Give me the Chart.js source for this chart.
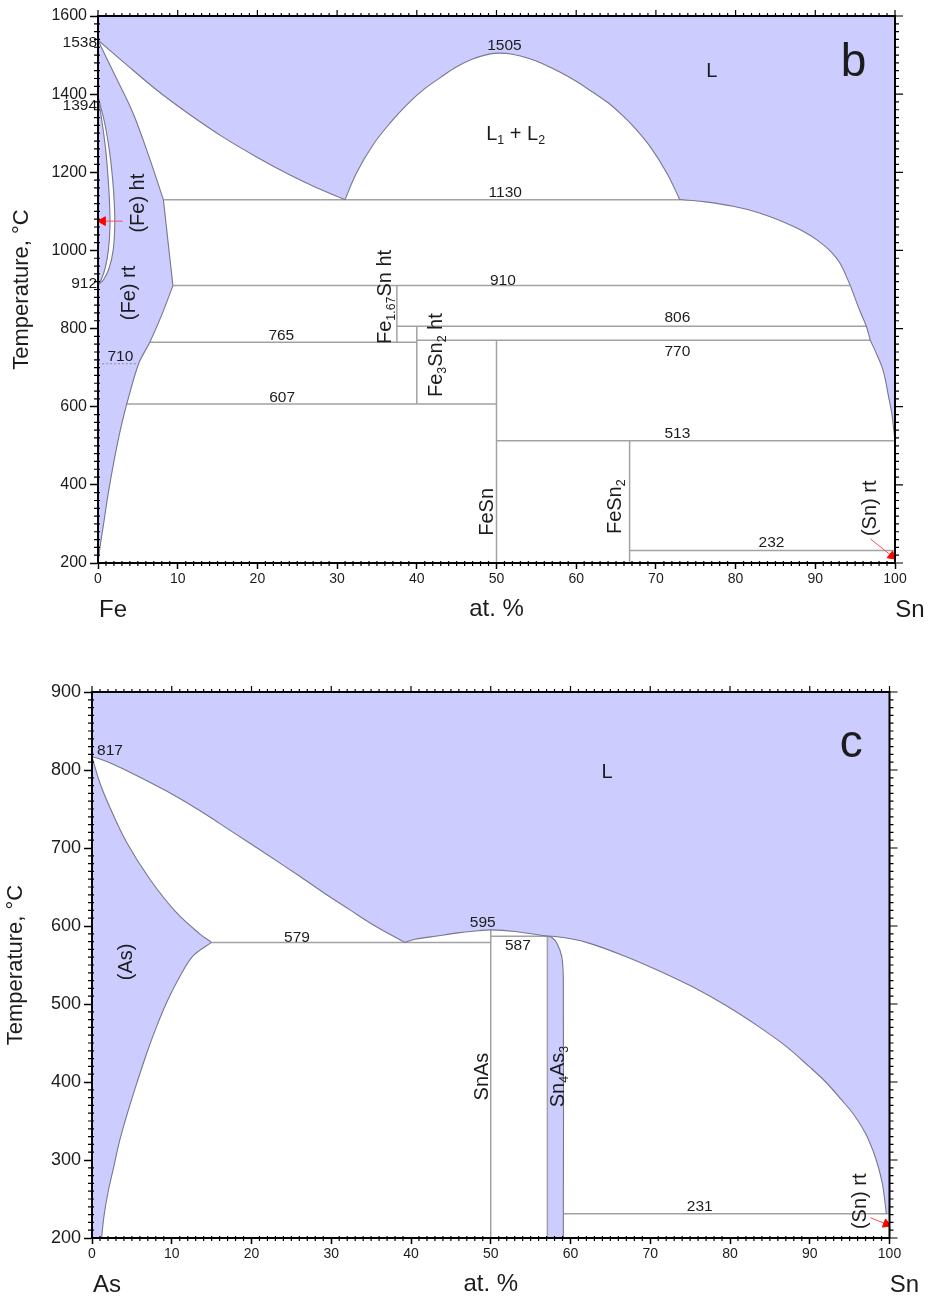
<!DOCTYPE html>
<html>
<head>
<meta charset="utf-8">
<script src="https://cdn.jsdelivr.net/npm/chart.js@4.4.1/dist/chart.umd.min.js"></script>
<style>
  body { margin: 0; background: #fff; width: 928px; height: 1299px; overflow: hidden; }
  .panel { position: absolute; left: 0; width: 928px; }
</style>
</head>
<body>
<div class="panel" style="top:0;height:650px"><canvas id="feSn" width="928" height="650"></canvas></div>
<div class="panel" style="top:650px;height:649px"><canvas id="asSn" width="928" height="649"></canvas></div>
<script>
// ---------- Fe–Sn (panel b) ----------
const compTicks = [0, 10, 20, 30, 40, 50, 60, 70, 80, 90, 100];
const feTempTicks = [200, 400, 600, 800, 1000, 1200, 1400, 1600];

const feLiquidusFe = [[0, 1538], [3.2, 1482], [7.4, 1410], [11.5, 1348], [15.7, 1290], [20, 1238], [24.1, 1193], [27.5, 1160], [31, 1130]];
const feGap = [[31, 1130], [32.4, 1197], [34.5, 1270], [36.6, 1325], [38.7, 1372], [40.8, 1411], [43, 1443], [45, 1470], [47, 1490], [49.2, 1503], [50.3, 1505],
  [52, 1502], [54, 1492], [56, 1476], [58, 1456], [60, 1433], [62, 1406], [64, 1378], [66, 1342], [67.2, 1317], [69.3, 1265], [71.4, 1197], [73, 1130]];
const feLiquidusSnHigh = [[73, 1130], [76, 1125], [79.7, 1113], [83, 1096], [86, 1073], [88.3, 1051], [90.2, 1027], [91.8, 1000], [93.1, 967], [94.4, 910]];
const feLiquidusSnMid = [[94.4, 910], [95.5, 850], [96.4, 806], [96.9, 770]];
const feLiquidusSnLow = [[96.9, 770], [97.8, 730], [98.4, 700], [98.8, 668], [99.2, 625], [99.6, 583], [99.85, 540], [100, 513]];
const feSolvusHigh = [[0, 1538], [2.2, 1445], [4.4, 1351], [6.4, 1240], [8.2, 1130]];
const feSolvusMid = [[8.2, 1130], [8.8, 1020], [9.4, 910]];
const feSolvusLow = [[9.4, 910], [8, 835], [6.5, 765], [5.1, 710], [3.6, 607]];
const feSolvusBottom = [[3.6, 607], [2.8, 540], [2, 460], [1.3, 380], [0.7, 300], [0.25, 240], [0, 200]];
const feGammaOuter = [[0, 1394], [0.8, 1330], [1.4, 1260], [1.8, 1190], [2.05, 1120], [2.1, 1060], [1.9, 1000], [1.4, 955], [0.7, 925], [0, 912]];
const feGammaInner = [[0, 1394], [0.5, 1330], [0.95, 1260], [1.25, 1190], [1.45, 1120], [1.5, 1060], [1.3, 1000], [0.9, 955], [0.4, 925], [0, 912]];
// [temperature, from at.%, to at.%]
const feIsotherms = [[1130, 8.2, 73], [910, 9.4, 94.4], [806, 37.5, 96.4], [770, 40, 96.9], [765, 6.5, 40], [607, 3.6, 50], [513, 50, 100], [232, 66.7, 100]];
// [at.%, from T, to T]
const feCompounds = [[37.5, 765, 910], [40, 607, 806], [50, 200, 770], [66.7, 200, 513]];
const feMagnetic = [[710, 0, 5.1]];
const feArrows = [[[3.1, 1075], [0.6, 1075]], [[96.9, 262], [99.6, 218]]];

// ---------- As–Sn (panel c) ----------
const asTempTicks = [200, 300, 400, 500, 600, 700, 800, 900];

const asLiquidusAs = [[0, 817], [1, 814], [2.5, 808], [5.2, 795], [9.35, 773], [13.5, 748], [17.7, 720], [21.9, 692], [26, 664], [29, 643], [32.3, 621], [35.5, 600], [39.2, 579]];
const asLiquidusMid = [[39.2, 579], [40.5, 583], [42.8, 586.5], [46.1, 591.5], [48.5, 594], [50, 595], [53, 593], [57.1, 587]];
const asLiquidusSn = [[57.1, 587], [58.6, 586], [62, 579], [66.9, 561], [71, 543], [75.3, 522], [79.5, 498], [83.6, 471], [87, 446], [89.9, 420],
  [92, 400], [94, 377], [95.6, 357], [97, 334], [98, 310], [98.6, 291], [99.1, 270], [99.4, 249], [99.6, 231]];
const asSolidus = [[0, 817], [1, 783], [2.25, 752], [4.3, 708], [7.26, 660], [10.6, 617], [13.5, 590], [15, 579]];
const asSolvus = [[15, 579], [12.7, 562], [11, 535], [9.5, 505], [8.1, 471], [6.8, 435], [5.6, 398], [4.5, 362], [3.5, 326], [2.7, 290], [2, 258], [1.5, 228], [1.2, 200]];
const asSn4As3 = [[57.1, 587], [57.7, 585], [58.3, 578], [58.9, 561], [59.1, 531], [59.1, 200]];
const asIsotherms = [[579, 15, 50], [587, 50, 57.1], [231, 59.1, 100]];
const asCompounds = [[50, 200, 595], [57.1, 200, 587]];
const asArrows = [[[97.6, 226], [99.6, 218]]];

const FONT = "'Liberation Sans', Arial, Helvetica, sans-serif";
const LAV = '#ccccff';
const CURVE = '#77778e';
const ISO = '#a2a2a2';
const INK = '#1c1c1c';

function xy(pts) {
  return pts.map(([x, y]) => ({x, y}));
}

// chains keep their shared end points, so every join stays a sharp corner
function joinChains(...chains) {
  return [].concat(...chains);
}

// text with _{sub} parts, centred on (px, py)
function drawRich(ctx, spec, px, py, size, rot) {
  const parts = spec.split(/(_\{[^}]*\})/).filter(Boolean)
    .map(s => s.startsWith('_{') ? {s: s.slice(2, -1), sub: true} : {s, sub: false});
  const big = size + 'px ' + FONT;
  const small = (size * 0.62).toFixed(1) + 'px ' + FONT;
  let w = 0;
  parts.forEach(p => { ctx.font = p.sub ? small : big; p.w = ctx.measureText(p.s).width; w += p.w; });
  ctx.save();
  ctx.translate(px, py);
  ctx.rotate((rot || 0) * Math.PI / 180);
  ctx.fillStyle = INK;
  ctx.textAlign = 'left';
  ctx.textBaseline = 'alphabetic';
  let cx = -w / 2;
  const base = size * 0.36;
  parts.forEach(p => {
    ctx.font = p.sub ? small : big;
    ctx.fillText(p.s, cx, base + (p.sub ? size * 0.2 : 0));
    cx += p.w;
  });
  ctx.restore();
}

const phaseNotes = {
  id: 'phaseNotes',
  afterDatasetsDraw(chart, args, opts) {
    const {ctx, chartArea: a, scales: {x, y}} = chart;
    opts.notes.forEach(n => drawRich(ctx, n.t, x.getPixelForValue(n.x), y.getPixelForValue(n.y), n.size || 15.5, n.rot));
    ctx.save();
    ctx.fillStyle = INK;
    ctx.font = '15.5px ' + FONT;
    ctx.textAlign = 'right';
    ctx.textBaseline = 'middle';
    (opts.edge || []).forEach(e => ctx.fillText(e.t, a.left - 1, y.getPixelForValue(e.v) + e.dy));
    ctx.font = '24px ' + FONT;
    ctx.textAlign = 'center';
    ctx.fillText(opts.ends[0], x.getPixelForValue(x.min) + 15, a.bottom + 47);
    ctx.fillText(opts.ends[1], x.getPixelForValue(x.max) + 15, a.bottom + 47);
    ctx.restore();
  }
};

// frame, minor ticks and mirrored ticks on top/right
const frameTicks = {
  id: 'frameTicks',
  afterDraw(chart, args, opts) {
    const {ctx, chartArea: a, scales: {x, y}} = chart;
    ctx.save();
    ctx.strokeStyle = '#000';
    ctx.lineWidth = 2;
    ctx.strokeRect(a.left, a.top, a.right - a.left, a.bottom - a.top);
    ctx.lineWidth = 1.2;
    ctx.beginPath();
    const nx = Math.round((x.max - x.min) / opts.xMinor);
    for (let i = 0; i <= nx; i++) {
      const p = x.getPixelForValue(x.min + i * opts.xMinor);
      const major = i % opts.xEvery === 0;
      ctx.moveTo(p, a.top); ctx.lineTo(p, a.top - (major ? 6 : 3));
      if (!major) { ctx.moveTo(p, a.bottom - 2); ctx.lineTo(p, a.bottom + 3); }
    }
    const ny = Math.round((y.max - y.min) / opts.yMinor);
    for (let i = 0; i <= ny; i++) {
      const p = y.getPixelForValue(y.min + i * opts.yMinor);
      const major = i % opts.yEvery === 0;
      ctx.moveTo(a.right, p); ctx.lineTo(a.right + (major ? 8 : 4), p);
      if (!major) { ctx.moveTo(a.left + 2, p); ctx.lineTo(a.left - 4, p); }
    }
    ctx.stroke();
    ctx.restore();
  }
};

function buildDatasets(s) {
  const sets = [];
  let order = 100;
  s.areas.forEach(r => sets.push({
    data: xy(r.pts), showLine: true, fill: 'shape', backgroundColor: r.color,
    borderWidth: 0, pointRadius: 0, order: order--
  }));
  const line = (pts, color, width, dash, ord) => sets.push({
    data: xy(pts), showLine: true, fill: false, borderColor: color, borderWidth: width,
    borderDash: dash || [], pointRadius: 0, order: ord
  });
  s.isotherms.forEach(([t, a, b]) => line([[a, t], [b, t]], ISO, 1.5, null, 12));
  s.compounds.forEach(([c, lo, hi]) => line([[c, lo], [c, hi]], ISO, 1.5, null, 12));
  (s.dashed || []).forEach(([t, a, b]) => line([[a, t], [b, t]], '#8a8a9a', 1.2, [2, 2], 12));
  s.curves.forEach(c => line(c, CURVE, 1.1, null, 10));
  s.arrows.forEach(ar => sets.push({
    data: xy(ar), showLine: true, fill: false, borderColor: '#ff4d4d', borderWidth: 1, tension: 0,
    pointRadius: [0, 5], pointStyle: 'triangle', pointBackgroundColor: '#ff0000', pointBorderColor: '#ff0000',
    pointRotation: c => {
      const d = c.dataset.data, xs = c.chart.scales.x, ys = c.chart.scales.y;
      const dx = xs.getPixelForValue(d[1].x) - xs.getPixelForValue(d[0].x);
      const dy = ys.getPixelForValue(d[1].y) - ys.getPixelForValue(d[0].y);
      return Math.atan2(dy, dx) * 180 / Math.PI + 90;
    },
    order: 1
  }));
  return sets;
}

function phaseChart(id, s) {
  return new Chart(document.getElementById(id), {
    type: 'scatter',
    data: {datasets: buildDatasets(s)},
    plugins: [phaseNotes, frameTicks],
    options: {
      responsive: false,
      animation: false,
      events: [],
      layout: {padding: s.padding},
      elements: {line: {tension: 0.35}},
      plugins: {
        legend: {display: false},
        tooltip: {enabled: false},
        phaseNotes: {notes: s.notes, edge: s.edge, ends: s.ends},
        frameTicks: {xMinor: 1, xEvery: 10, yMinor: s.yMinor, yEvery: s.yEvery}
      },
      scales: {
        x: {
          type: 'linear', position: 'bottom', min: 0, max: 100,
          afterBuildTicks: sc => { sc.ticks = compTicks.map(v => ({value: v})); },
          afterFit: sc => { sc.height = s.xHeight; },
          ticks: {color: INK, font: {family: FONT, size: 14}, padding: 2, maxRotation: 0, autoSkip: false, callback: v => String(v)},
          grid: {drawOnChartArea: false, drawTicks: true, tickLength: 6, tickColor: '#000', tickWidth: 1.5},
          border: {display: true, color: '#000', width: 2},
          title: {display: true, text: 'at. %', color: INK, font: {family: FONT, size: 24}, padding: {top: 0, bottom: s.xTitlePad}}
        },
        y: {
          type: 'linear', position: 'left', min: s.yMin, max: s.yMax,
          afterBuildTicks: sc => { sc.ticks = s.yTicks.map(v => ({value: v})); },
          afterFit: sc => { sc.width = s.yWidth; },
          ticks: {color: INK, font: {family: FONT, size: s.yTickSize}, padding: 3, autoSkip: false, callback: v => String(v)},
          grid: {drawOnChartArea: false, drawTicks: true, tickLength: 8, tickColor: '#000', tickWidth: 1.5},
          border: {display: true, color: '#000', width: 2},
          title: {display: true, text: 'Temperature, °C', color: INK, font: {family: FONT, size: 22}, padding: {top: s.yTitlePad, bottom: 0}}
        }
      }
    }
  });
}

phaseChart('feSn', {
  yMin: 200, yMax: 1600, yTicks: feTempTicks, yMinor: 20, yEvery: 10, yTickSize: 16,
  padding: {left: 0, right: 33, top: 16, bottom: 0}, yWidth: 98, xHeight: 87, xTitlePad: 26, yTitlePad: 9,
  areas: [
    {color: LAV, pts: joinChains([[0, 1600], [0, 1538]], feLiquidusFe, feGap, feLiquidusSnHigh, feLiquidusSnMid, feLiquidusSnLow, [[100, 513], [100, 1600]])},
    {color: LAV, pts: joinChains(feSolvusHigh, feSolvusMid, feSolvusLow, feSolvusBottom)},
    {color: '#ffffff', pts: joinChains(feGammaOuter, feGammaInner.slice().reverse())}
  ],
  curves: [feLiquidusFe, feGap, feLiquidusSnHigh, feLiquidusSnMid, feLiquidusSnLow,
    feSolvusHigh, feSolvusMid, feSolvusLow, feSolvusBottom, feGammaOuter, feGammaInner],
  isotherms: feIsotherms,
  compounds: feCompounds,
  dashed: feMagnetic,
  arrows: feArrows,
  ends: ['Fe', 'Sn'],
  edge: [{t: '1538', v: 1538, dy: 2}, {t: '1394', v: 1394, dy: 9}, {t: '912', v: 912, dy: -1}],
  notes: [
    {t: '1505', x: 51.0, y: 1526}, {t: '1130', x: 51.1, y: 1152}, {t: '910', x: 50.8, y: 927},
    {t: '806', x: 72.7, y: 832}, {t: '770', x: 72.7, y: 745}, {t: '765', x: 23.0, y: 786},
    {t: '607', x: 23.1, y: 627}, {t: '513', x: 72.7, y: 535}, {t: '232', x: 84.5, y: 254},
    {t: '710', x: 2.8, y: 732},
    {t: 'L', x: 77, y: 1462, size: 20},
    {t: 'b', x: 94.8, y: 1490, size: 46},
    {t: 'L_{1} + L_{2}', x: 52.4, y: 1300, size: 20},
    {t: '(Fe) ht', x: 4.85, y: 1121, size: 20, rot: -90},
    {t: '(Fe) rt', x: 3.8, y: 891, size: 20, rot: -90},
    {t: 'Fe_{1.67}Sn ht', x: 35.8, y: 881, size: 20, rot: -90},
    {t: 'Fe_{3}Sn_{2} ht', x: 42.3, y: 732, size: 20, rot: -90},
    {t: 'FeSn', x: 48.6, y: 331, size: 20, rot: -90},
    {t: 'FeSn_{2}', x: 64.7, y: 344, size: 20, rot: -90},
    {t: '(Sn) rt', x: 96.7, y: 340, size: 20, rot: -90}
  ]
});

phaseChart('asSn', {
  yMin: 200, yMax: 900, yTicks: asTempTicks, yMinor: 10, yEvery: 10, yTickSize: 18,
  padding: {left: 0, right: 38.5, top: 42, bottom: 0}, yWidth: 92, xHeight: 61, xTitlePad: 0, yTitlePad: 3,
  areas: [
    {color: LAV, pts: joinChains([[0, 900], [0, 817]], asLiquidusAs, asLiquidusMid, asLiquidusSn, [[99.6, 231], [100, 231], [100, 900]])},
    {color: LAV, pts: joinChains(asSolidus, asSolvus, [[1.2, 200], [0, 200]])},
    {color: LAV, pts: joinChains(asSn4As3, [[59.1, 200], [57.1, 200]])}
  ],
  curves: [asLiquidusAs, asLiquidusMid, asLiquidusSn, asSolidus, asSolvus, asSn4As3],
  isotherms: asIsotherms,
  compounds: asCompounds,
  arrows: asArrows,
  ends: ['As', 'Sn'],
  notes: [
    {t: '817', x: 2.26, y: 827}, {t: '595', x: 49.0, y: 606}, {t: '579', x: 25.7, y: 587},
    {t: '587', x: 53.4, y: 576}, {t: '231', x: 76.2, y: 242},
    {t: 'L', x: 64.6, y: 799, size: 20},
    {t: 'c', x: 95.2, y: 838, size: 46},
    {t: '(As)', x: 4.1, y: 554, size: 20, rot: -90},
    {t: 'SnAs', x: 48.8, y: 407, size: 20, rot: -90},
    {t: 'Sn_{4}As_{3}', x: 58.3, y: 407, size: 20, rot: -90},
    {t: '(Sn) rt', x: 96.1, y: 247, size: 20, rot: -90}
  ]
});
</script>
</body>
</html>
